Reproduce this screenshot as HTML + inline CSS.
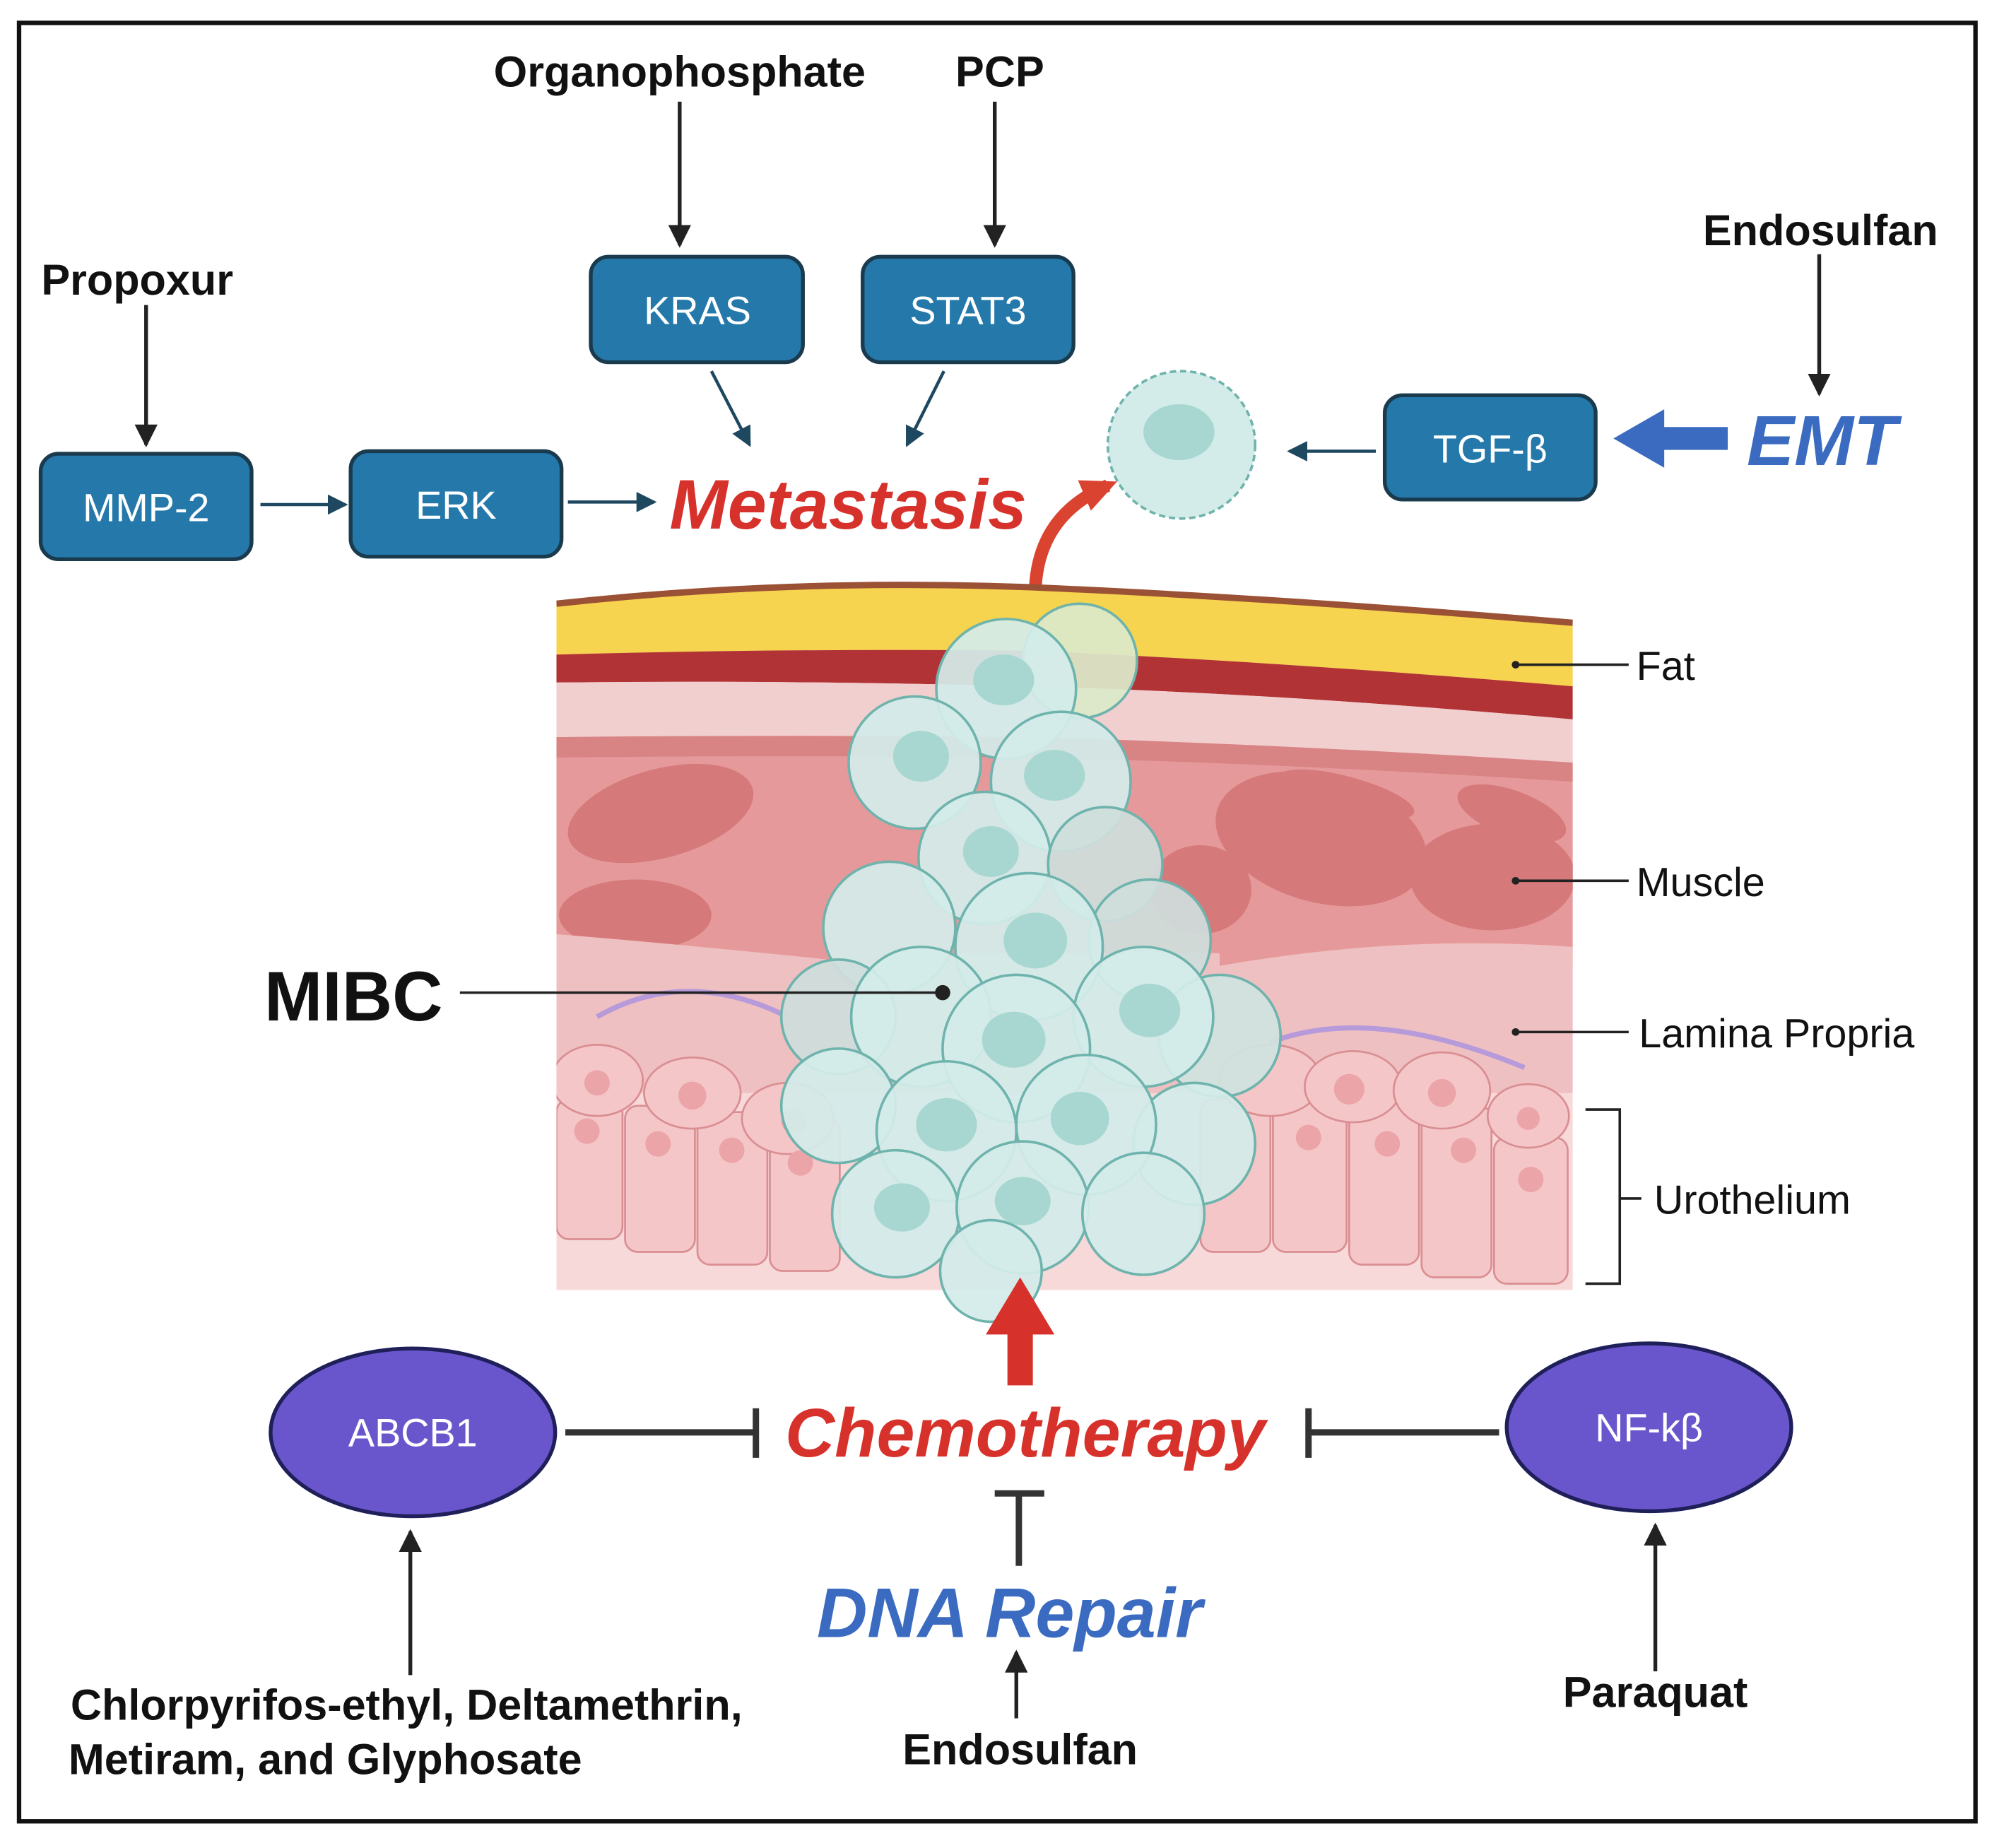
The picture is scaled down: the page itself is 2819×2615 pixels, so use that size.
<!DOCTYPE html>
<html><head><meta charset="utf-8"><style>
html,body{margin:0;padding:0;background:#fff}
svg{display:block}
text{font-family:"Liberation Sans",sans-serif}
</style></head><body>
<svg width="2819" height="2615" viewBox="0 0 1568 1454" preserveAspectRatio="none" xmlns="http://www.w3.org/2000/svg">
<defs>
<marker id="ah2" markerWidth="18" markerHeight="18" refX="16" refY="9" orient="auto" markerUnits="userSpaceOnUse" viewBox="0 0 18 18"><path d="M0,0 L18,9 L0,18 z" fill="#222"/></marker>
<marker id="ahb" markerWidth="16" markerHeight="16" refX="14" refY="8" orient="auto" markerUnits="userSpaceOnUse" viewBox="0 0 16 16"><path d="M0,0 L16,8 L0,16 z" fill="#1d4860"/></marker>
<marker id="ahr" markerWidth="30" markerHeight="30" refX="20" refY="15" orient="auto" markerUnits="userSpaceOnUse" viewBox="0 0 30 30"><path d="M0,2 L28,15 L0,28 z" fill="#d9432f"/></marker>
<clipPath id="tis"><rect x="438" y="440" width="800" height="575"/></clipPath>
</defs>
<rect x="0" y="0" width="1568" height="1454" fill="#fff"/>
<rect x="15" y="18" width="1540" height="1415" fill="none" stroke="#111" stroke-width="3.5"/>

<g font-weight="bold" font-size="34" fill="#111" text-anchor="middle">
<text x="535" y="68">Organophosphate</text>
<text x="787" y="68">PCP</text>
<text x="108" y="232">Propoxur</text>
<text x="1433" y="193">Endosulfan</text>
<text x="803" y="1388">Endosulfan</text>
<text x="1303" y="1343">Paraquat</text>
<text x="320" y="1353">Chlorpyrifos-ethyl, Deltamethrin,</text>
<text x="256" y="1396">Metiram, and Glyphosate</text>
</g>
<g stroke="#222" stroke-width="3" fill="none">
<line x1="535" y1="80" x2="535" y2="193" marker-end="url(#ah2)"/>
<line x1="783" y1="80" x2="783" y2="193" marker-end="url(#ah2)"/>
<line x1="115" y1="240" x2="115" y2="350" marker-end="url(#ah2)"/>
<line x1="1432" y1="200" x2="1432" y2="310" marker-end="url(#ah2)"/>
<line x1="323" y1="1318" x2="323" y2="1205" marker-end="url(#ah2)"/>
<line x1="1303" y1="1315" x2="1303" y2="1200" marker-end="url(#ah2)"/>
<line x1="800" y1="1352" x2="800" y2="1300" marker-end="url(#ah2)"/>
</g>

<g fill="#2479aa" stroke="#1a3a4e" stroke-width="3">
<rect x="465" y="202" width="167" height="83" rx="14"/>
<rect x="679" y="202" width="166" height="83" rx="14"/>
<rect x="32" y="357" width="166" height="83" rx="14"/>
<rect x="276" y="355" width="166" height="83" rx="14"/>
<rect x="1090" y="311" width="166" height="82" rx="14"/>
</g>
<g fill="#fff" font-size="31" text-anchor="middle">
<text x="549" y="255">KRAS</text>
<text x="762" y="255">STAT3</text>
<text x="115" y="410">MMP-2</text>
<text x="359" y="408">ERK</text>
<text x="1173" y="364">TGF-β</text>
</g>
<g stroke="#1d4860" stroke-width="2.5">
<line x1="205" y1="397" x2="272" y2="397" marker-end="url(#ahb)"/>
<line x1="447" y1="395" x2="515" y2="395" marker-end="url(#ahb)"/>
<line x1="560" y1="292" x2="590" y2="350" marker-end="url(#ahb)"/>
<line x1="743" y1="292" x2="714" y2="350" marker-end="url(#ahb)"/>
<line x1="1083" y1="355" x2="1015" y2="355" marker-end="url(#ahb)"/>
</g>
<text x="527" y="416" font-size="55" font-weight="bold" font-style="italic" fill="#d6322b">Metastasis</text>
<path d="M1360,336 L1310,336 L1310,322 L1270,345 L1310,368 L1310,354 L1360,354 z" fill="#3b6bc1"/>
<text x="1375" y="366" font-size="56" font-weight="bold" font-style="italic" fill="#3b6bc1">EMT</text>

<circle cx="930" cy="350" r="58" fill="#d3ece9" stroke="#6fb3ad" stroke-width="2" stroke-dasharray="5 3"/>
<ellipse cx="928" cy="340" rx="28" ry="22" fill="#a8d7d2"/>
<path d="M815,462 Q818,405 872,382" fill="none" stroke="#d9432f" stroke-width="10" marker-end="url(#ahr)"/>

<g clip-path="url(#tis)">
<path d="M438,475 Q620,455 810,462 Q1000,470 1238,490 L1238,1015 L438,1015 z" fill="#f8d9d9"/>
<path d="M438,475 Q620,455 810,462 Q1000,470 1238,490 L1238,540 Q1000,520 810,512 Q620,510 438,515 z" fill="#f7d44f"/>
<path d="M438,475 Q620,455 810,462 Q1000,470 1238,490" fill="none" stroke="#9b5135" stroke-width="5"/>
<path d="M438,515 Q620,510 810,512 Q1000,520 1238,540 L1238,566 Q1000,545 810,540 Q620,535 438,537 z" fill="#b23335"/>
<path d="M438,537 Q620,535 810,540 Q1000,545 1238,566 L1238,600 Q1000,585 810,580 Q620,578 438,580 z" fill="#f1cfcf"/>
<path d="M438,580 Q620,578 810,580 Q1000,585 1238,600 L1238,760 L438,760 z" fill="#e6999a"/>
<path d="M438,580 Q620,578 810,580 Q1000,585 1238,600 L1238,615 Q1000,600 810,596 Q620,594 438,596 z" fill="#d88384"/>
<g fill="#d6797a">
<ellipse cx="520" cy="640" rx="75" ry="35" transform="rotate(-15 520 640)"/>
<ellipse cx="500" cy="720" rx="60" ry="28"/>
<ellipse cx="1040" cy="660" rx="85" ry="50" transform="rotate(15 1040 660)"/>
<ellipse cx="1175" cy="690" rx="65" ry="42"/>
<ellipse cx="1060" cy="625" rx="55" ry="14" transform="rotate(15 1060 625)"/>
<ellipse cx="1190" cy="640" rx="45" ry="18" transform="rotate(20 1190 640)"/>
<ellipse cx="945" cy="700" rx="40" ry="35"/>
</g>
<path d="M438,735 Q560,745 700,760 L700,860 L438,860 z" fill="#efc0c1"/>
<path d="M960,760 Q1100,735 1238,745 L1238,860 L960,860 z" fill="#efc0c1"/>
<path d="M700,750 L960,750 L960,860 L700,860 z" fill="#efc0c1"/>
<path d="M470,800 Q540,760 620,800 M1000,820 Q1080,790 1200,840" stroke="#b79ad9" stroke-width="4" fill="none"/>
<g fill="#f5c6c8" stroke="#d98e92" stroke-width="1.5">
<rect x="438" y="865" width="52" height="110" rx="10"/><rect x="492" y="870" width="55" height="115" rx="10"/>
<rect x="549" y="875" width="55" height="120" rx="10"/><rect x="606" y="880" width="55" height="120" rx="10"/>
<rect x="945" y="865" width="55" height="120" rx="10"/><rect x="1002" y="860" width="58" height="125" rx="10"/>
<rect x="1062" y="865" width="55" height="130" rx="10"/><rect x="1119" y="870" width="55" height="135" rx="10"/>
<rect x="1176" y="895" width="58" height="115" rx="10"/>
<ellipse cx="470" cy="850" rx="36" ry="28"/><ellipse cx="545" cy="860" rx="38" ry="28"/>
<ellipse cx="620" cy="880" rx="36" ry="28"/><ellipse cx="1000" cy="850" rx="40" ry="28"/>
<ellipse cx="1065" cy="855" rx="38" ry="28"/><ellipse cx="1135" cy="858" rx="38" ry="30"/>
<ellipse cx="1203" cy="878" rx="32" ry="25"/>
</g>
<g fill="#eba4a8"><circle cx="470" cy="852" r="10"/><circle cx="545" cy="862" r="11"/><circle cx="625" cy="882" r="10"/><circle cx="462" cy="890" r="10"/><circle cx="518" cy="900" r="10"/><circle cx="576" cy="905" r="10"/><circle cx="630" cy="915" r="10"/><circle cx="1062" cy="857" r="12"/><circle cx="1135" cy="860" r="11"/><circle cx="1203" cy="880" r="9"/><circle cx="1030" cy="895" r="10"/><circle cx="1092" cy="900" r="10"/><circle cx="1152" cy="905" r="10"/><circle cx="1205" cy="928" r="10"/></g>
</g>

<g fill="#d3ece9" stroke="#6fb3ad" stroke-width="2" fill-opacity="0.93">
<circle cx="850" cy="520" r="45" fill="#dce9c9"/>
<circle cx="792" cy="542" r="55"/>
<circle cx="720" cy="600" r="52"/>
<circle cx="835" cy="615" r="55"/>
<circle cx="775" cy="675" r="52"/>
<circle cx="870" cy="680" r="45" fill="#cfdedb"/>
<circle cx="700" cy="730" r="52"/>
<circle cx="905" cy="740" r="48" fill="#cfdedb"/>
<circle cx="810" cy="745" r="58"/>
<circle cx="660" cy="800" r="45" fill="#cfdedb"/>
<circle cx="960" cy="815" r="48" fill="#d0e3e0"/>
<circle cx="725" cy="800" r="55"/>
<circle cx="900" cy="800" r="55"/>
<circle cx="800" cy="825" r="58"/>
<circle cx="660" cy="870" r="45"/>
<circle cx="940" cy="900" r="48"/>
<circle cx="745" cy="890" r="55"/>
<circle cx="855" cy="885" r="55"/>
<circle cx="705" cy="955" r="50"/>
<circle cx="805" cy="950" r="52"/>
<circle cx="900" cy="955" r="48"/>
<circle cx="780" cy="1000" r="40"/>
</g>
<g fill="#a8d7d2">
<ellipse cx="790" cy="535" rx="24" ry="20"/><ellipse cx="725" cy="595" rx="22" ry="20"/><ellipse cx="830" cy="610" rx="24" ry="20"/>
<ellipse cx="780" cy="670" rx="22" ry="20"/><ellipse cx="815" cy="740" rx="25" ry="22"/><ellipse cx="905" cy="795" rx="24" ry="21"/>
<ellipse cx="798" cy="818" rx="25" ry="22"/><ellipse cx="745" cy="885" rx="24" ry="21"/><ellipse cx="850" cy="880" rx="23" ry="21"/>
<ellipse cx="710" cy="950" rx="22" ry="19"/><ellipse cx="805" cy="945" rx="22" ry="19"/>
</g>

<g stroke="#222" stroke-width="2" fill="none">
<line x1="1193" y1="523" x2="1282" y2="523"/>
<line x1="1193" y1="693" x2="1282" y2="693"/>
<line x1="1193" y1="812" x2="1282" y2="812"/>
<path d="M1248,873 L1275,873 L1275,1010 L1248,1010 M1275,943 L1292,943"/>
<line x1="362" y1="781" x2="742" y2="781"/>
</g>
<g fill="#222"><circle cx="1193" cy="523" r="3"/><circle cx="1193" cy="693" r="3"/><circle cx="1193" cy="812" r="3"/><circle cx="742" cy="781" r="6"/></g>
<g font-size="32" fill="#111">
<text x="1288" y="535">Fat</text>
<text x="1288" y="705">Muscle</text>
<text x="1290" y="824">Lamina Propria</text>
<text x="1302" y="955">Urothelium</text>
</g>
<text x="208" y="803" font-size="55" font-weight="bold" fill="#111">MIBC</text>

<path d="M793,1090 L813,1090 L813,1050 L830,1050 L803,1005 L776,1050 L793,1050 z" fill="#d6322b"/>

<ellipse cx="325" cy="1127" rx="112" ry="66" fill="#6a56cc" stroke="#1f1f5a" stroke-width="3"/>
<ellipse cx="1298" cy="1123" rx="112" ry="66" fill="#6a56cc" stroke="#1f1f5a" stroke-width="3"/>
<text x="325" y="1138" font-size="31" fill="#fff" text-anchor="middle">ABCB1</text>
<text x="1298" y="1134" font-size="31" fill="#fff" text-anchor="middle">NF-kβ</text>

<text x="618" y="1146" font-size="54" font-weight="bold" font-style="italic" fill="#d6322b">Chemotherapy</text>
<text x="643" y="1288" font-size="55" font-weight="bold" font-style="italic" fill="#3b6bc1">DNA Repair</text>
<g stroke="#333" stroke-width="5" fill="none">
<line x1="445" y1="1127" x2="595" y2="1127"/><line x1="595" y1="1108" x2="595" y2="1147"/>
<line x1="1180" y1="1127" x2="1030" y2="1127"/><line x1="1030" y1="1108" x2="1030" y2="1147"/>
<line x1="802" y1="1232" x2="802" y2="1175"/><line x1="783" y1="1175" x2="822" y2="1175"/>
</g>
</svg>
</body></html>
